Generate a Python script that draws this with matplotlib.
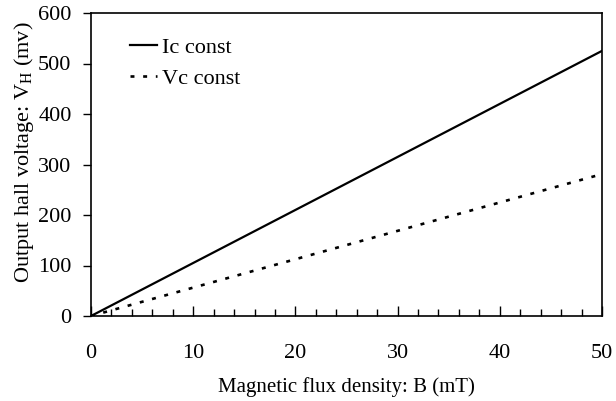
import matplotlib
matplotlib.use("Agg")
import matplotlib.pyplot as plt
from matplotlib.ticker import MultipleLocator

plt.rcParams['font.family'] = ['Liberation Serif', 'DejaVu Serif']
plt.rcParams['mathtext.fontset'] = 'custom'
plt.rcParams['mathtext.rm'] = 'Liberation Serif'

# flux density (mT) and hall voltage (mV)
b_field = [0, 50]
ic_const = [0, 525]
vc_const = [0, 281]
series_names = ['Ic const', 'Vc const']


def main():
    fig = plt.figure(figsize=(6.16, 4.01), dpi=100)
    ax = fig.add_axes([91 / 616, 1 - 316 / 401, 511 / 616, 303 / 401])

    ax.plot(b_field, ic_const, color='black', lw=1.6, label=series_names[0])
    ax.plot(b_field, vc_const, color='black', lw=1.9, ls=(0, (1.5, 3.3)), label=series_names[1])

    ax.set_xlim(0, 50)
    ax.set_ylim(0, 600)
    ax.xaxis.set_major_locator(MultipleLocator(10))
    ax.xaxis.set_minor_locator(MultipleLocator(2))
    ax.yaxis.set_major_locator(MultipleLocator(100))

    ax.tick_params(axis='x', which='major', direction='in', length=7, width=1, pad=20, labelsize=16)
    ax.tick_params(axis='x', which='minor', direction='in', length=5, width=1)
    ax.tick_params(axis='y', which='major', direction='out', length=6, width=1, pad=8, labelsize=16)
    for s in ax.spines.values():
        s.set_linewidth(1.2)

    ax.set_xlabel('Magnetic flux density: B (mT)', fontsize=15, labelpad=10)
    ax.set_ylabel(r'Output hall voltage: V$_\mathregular{H}$ (mv)', fontsize=16)
    ax.yaxis.set_label_coords(-0.108, 0.54)

    ax.legend(loc='upper left', frameon=False, fontsize=16, handlelength=1.2,
              handletextpad=0.25, bbox_to_anchor=(0.037, 0.985), labelspacing=0.45)

    fig.savefig('out.png', dpi=100)


if __name__ == '__main__':
    main()
